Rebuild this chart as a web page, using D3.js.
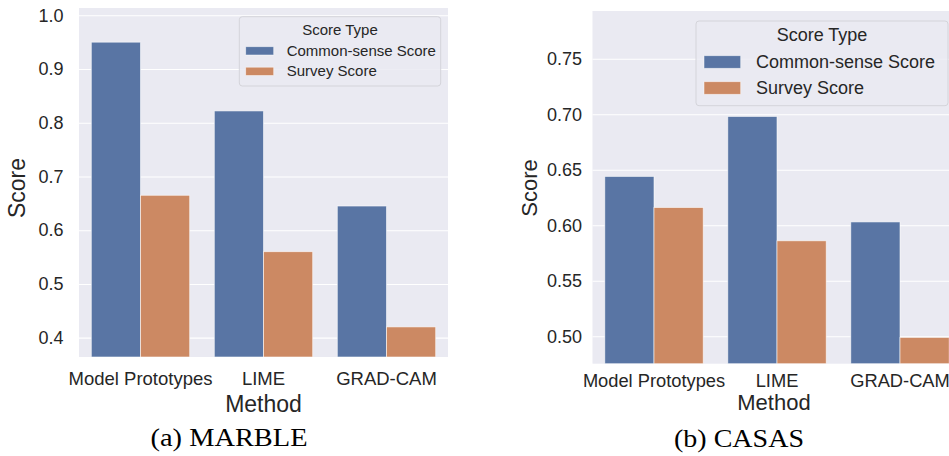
<!DOCTYPE html>
<html>
<head>
<meta charset="utf-8">
<script src="https://cdn.jsdelivr.net/npm/d3@7"></script>
<style>
  html, body { margin: 0; padding: 0; background: #ffffff; }
  svg { display: block; }
  .sans { font-family: "Liberation Sans", Arial, Helvetica, sans-serif; fill: #262626; }
  .serif { font-family: "Liberation Serif", "Times New Roman", serif; fill: #000000; }
</style>
</head>
<body>
<svg id="chart" width="949" height="456"></svg>
<script>
// Categories and series
const methods = ["Model Prototypes", "LIME", "GRAD-CAM"];
const scoreTypes = ["Common-sense Score", "Survey Score"];

// MARBLE scores
const marbleCommonSense = [0.950, 0.822, 0.645];
const marbleSurvey = [0.665, 0.560, 0.420];

// CASAS scores
const casasCommonSense = [0.644, 0.698, 0.603];
const casasSurvey = [0.616, 0.586, 0.499];

// Tick labels
const marbleTicks = [0.4, 0.5, 0.6, 0.7, 0.8, 0.9, 1.0];
const casasTicks = [0.50, 0.55, 0.60, 0.65, 0.70, 0.75];

// Axis titles, legend title, captions
const xTitle = "Method";
const yTitle = "Score";
const legendTitle = "Score Type";
const captions = ["(a) MARBLE", "(b) CASAS"];

// Seaborn "deep" palette, desaturated as barplot does
const colors = ["#5975a4", "#cc8963"];

const svg = d3.select("#chart");

function drawPanel(cfg) {
  const g = svg.append("g");
  const rows = methods.map((m, i) => ({
    method: m,
    values: cfg.series.map((s, j) => ({ type: scoreTypes[j], value: s[i] }))
  }));

  const x = d3.scaleBand().domain(methods).range(cfg.xRange).padding(0);
  const xs = d3.scaleBand().domain(scoreTypes).range([0, x.bandwidth()])
    .paddingInner(0).paddingOuter(0.25);
  const y = d3.scaleLinear().domain(cfg.yDomain).range([cfg.yBottom, cfg.yTop]);

  // plot background
  g.append("rect")
    .attr("x", cfg.xRange[0]).attr("y", cfg.yTop)
    .attr("width", cfg.xRange[1] - cfg.xRange[0])
    .attr("height", cfg.yBottom - cfg.yTop)
    .attr("fill", "#eaeaf2");

  // y axis with grid
  const yAxis = d3.axisLeft(y)
    .tickValues(cfg.ticks)
    .tickFormat(d3.format(cfg.tickFormat))
    .tickSize(-(cfg.xRange[1] - cfg.xRange[0]))
    .tickPadding(cfg.yTickPad);
  const ya = g.append("g")
    .attr("transform", `translate(${cfg.xRange[0]},0)`)
    .call(yAxis);
  ya.select(".domain").remove();
  ya.selectAll(".tick line").attr("stroke", "#ffffff").attr("stroke-width", 1.1);
  ya.selectAll(".tick text")
    .attr("class", "sans")
    .attr("font-size", cfg.yTickSize)
    .attr("fill", "#262626");

  // bars
  const groups = g.append("g").selectAll("g")
    .data(rows).join("g")
    .attr("transform", d => `translate(${x(d.method)},0)`);
  groups.selectAll("rect")
    .data(d => d.values).join("rect")
    .attr("x", d => xs(d.type))
    .attr("width", xs.bandwidth())
    .attr("y", d => y(d.value))
    .attr("height", d => cfg.yBottom - y(d.value))
    .attr("fill", (d, i) => colors[i])
    .attr("stroke", "#ffffff")
    .attr("stroke-opacity", 0.7)
    .attr("stroke-width", 0.8);

  // x axis
  const xa = g.append("g")
    .attr("transform", `translate(0,${cfg.yBottom})`)
    .call(d3.axisBottom(x).tickSize(0));
  xa.select(".domain").remove();
  xa.selectAll(".tick text")
    .attr("class", "sans")
    .attr("font-size", cfg.xTickSize)
    .attr("fill", "#262626")
    .attr("y", cfg.xTickOffset)
    .attr("dy", 0);

  // axis titles
  g.append("text").attr("class", "sans")
    .attr("x", cfg.xTitlePos[0]).attr("y", cfg.xTitlePos[1])
    .attr("text-anchor", "middle")
    .attr("font-size", cfg.titleSize)
    .text(xTitle);
  g.append("text").attr("class", "sans")
    .attr("transform", `translate(${cfg.yTitlePos[0]},${cfg.yTitlePos[1]}) rotate(-90)`)
    .attr("text-anchor", "middle")
    .attr("font-size", cfg.titleSize)
    .text(yTitle);

  // legend
  const L = cfg.legend;
  const lg = g.append("g").attr("transform", `translate(${L.x},${L.y})`);
  lg.append("rect")
    .attr("x", 0).attr("y", 0).attr("width", L.w).attr("height", L.h)
    .attr("rx", 3).attr("ry", 3)
    .attr("fill", "#eaeaf2").attr("fill-opacity", 0.85)
    .attr("stroke", "#d4d4da").attr("stroke-width", 1);
  lg.append("text").attr("class", "sans")
    .attr("x", L.w / 2).attr("y", L.titleY)
    .attr("text-anchor", "middle")
    .attr("font-size", L.fontSize)
    .text(legendTitle);
  scoreTypes.forEach((t, i) => {
    lg.append("rect")
      .attr("x", L.patchX).attr("y", L.patchY + i * L.rowStep)
      .attr("width", L.patchW).attr("height", L.patchH)
      .attr("fill", colors[i])
      .attr("stroke", "#ffffff").attr("stroke-opacity", 0.6).attr("stroke-width", 0.8);
    lg.append("text").attr("class", "sans")
      .attr("x", L.textX).attr("y", L.textY + i * L.rowStep)
      .attr("font-size", L.fontSize)
      .text(t);
  });

  // caption
  svg.append("text").attr("class", "serif")
    .attr("x", cfg.captionPos[0]).attr("y", cfg.captionPos[1])
    .attr("text-anchor", "middle")
    .attr("font-size", cfg.captionSize)
    .attr("textLength", cfg.captionWidth)
    .attr("lengthAdjust", "spacingAndGlyphs")
    .text(cfg.caption);
}

drawPanel({
  series: [marbleCommonSense, marbleSurvey],
  ticks: marbleTicks, tickFormat: ".1f",
  xRange: [79, 448], yTop: 8, yBottom: 357, yDomain: [0.364, 1.0136],
  yTickPad: 15.5, yTickSize: 18, xTickSize: 18.5, xTickOffset: 28,
  titleSize: 23, xTitlePos: [263.5, 411.7], yTitlePos: [25, 188],
  legend: { x: 239.3, y: 16.7, w: 201.4, h: 69.3, fontSize: 15, titleY: 18.5,
            patchX: 6.4, patchW: 28, patchH: 8.3, patchY: 30, rowStep: 20.5,
            textX: 47.4, textY: 39 },
  caption: captions[0], captionPos: [229, 446], captionSize: 26, captionWidth: 157
});

drawPanel({
  series: [casasCommonSense, casasSurvey],
  ticks: casasTicks, tickFormat: ".2f",
  xRange: [592.5, 961.5], yTop: 11, yBottom: 363.7, yDomain: [0.4753, 0.793],
  yTickPad: 10.5, yTickSize: 18, xTickSize: 18.3, xTickOffset: 23.6,
  titleSize: 22, xTitlePos: [774, 410], yTitlePos: [537, 188],
  legend: { x: 696, y: 21, w: 252, h: 84.7, fontSize: 18, titleY: 20,
            patchX: 8, patchW: 36.7, patchH: 12.6, patchY: 34.7, rowStep: 26,
            textX: 60, textY: 47.3 },
  caption: captions[1], captionPos: [739, 447], captionSize: 26, captionWidth: 130
});
</script>
</body>
</html>
